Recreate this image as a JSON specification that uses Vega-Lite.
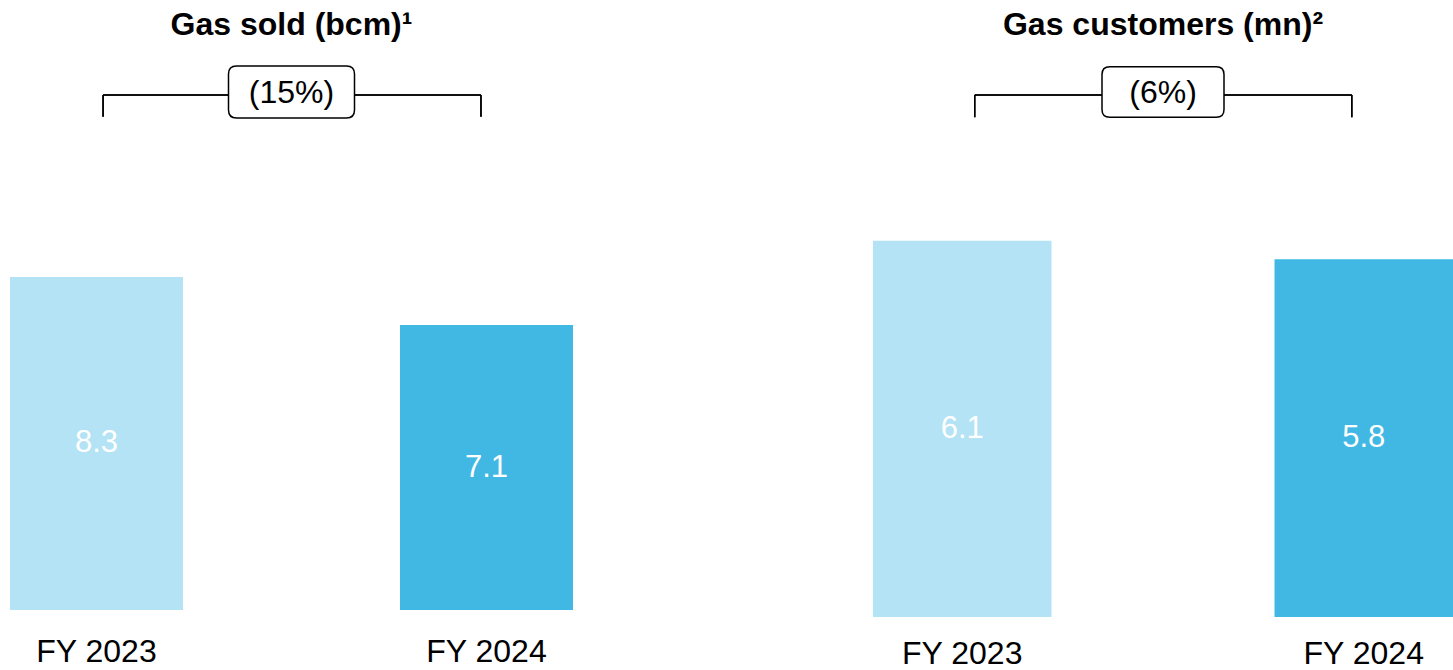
{
  "$schema": "https://vega.github.io/schema/vega-lite/v6.json",
  "padding": 0,
  "spacing": 290,
  "background": "white",
  "config": {
    "view": {"stroke": null},
    "font": "Liberation Sans",
    "text": {"font": "Liberation Sans"}
  },
  "datasets": {
    "gas_sold": [
      {"year": "FY 2023", "value": 8.3},
      {"year": "FY 2024", "value": 7.1}
    ],
    "gas_customers": [
      {"year": "FY 2023", "value": 6.1},
      {"year": "FY 2024", "value": 5.8}
    ]
  },
  "hconcat": [
    {
      "width": 583,
      "height": 610,
      "data": {"name": "gas_sold"},
      "resolve": {"scale": {"y": "independent"}},
      "layer": [
        {
          "layer": [
            {
              "mark": {"type": "bar"},
              "encoding": {
                "x": {"field": "year", "type": "nominal", "scale": {"domain": ["FY 2023", "change", "FY 2024"], "paddingInner": 0.1128, "paddingOuter": 0.0513}, "axis": {"values": ["FY 2023", "FY 2024"], "title": null, "domain": false, "ticks": false, "labelAngle": 0, "labelFontSize": 32, "labelColor": "black", "labelPadding": 51, "labelBaseline": "alphabetic", "labelFont": "Liberation Sans"}},
                "y": {"field": "value", "type": "quantitative", "scale": {"domain": [0, 15.2], "nice": false}, "axis": null},
                "color": {"field": "year", "type": "nominal", "scale": {"domain": ["FY 2023", "FY 2024"], "range": ["#B3E3F4", "#41B8E4"]}, "legend": null}
              }
            },
            {
              "mark": {"type": "rule", "color": "black", "strokeWidth": 1.5},
              "encoding": {
                "x": {"datum": "FY 2023", "bandPosition": 0.538},
                "y": {"datum": 12.29},
                "y2": {"datum": 12.83}
              }
            },
            {
              "mark": {"type": "rule", "color": "black", "strokeWidth": 1.5},
              "encoding": {
                "x": {"datum": "FY 2024", "bandPosition": 0.468},
                "y": {"datum": 12.29},
                "y2": {"datum": 12.83}
              }
            },
            {
              "mark": {"type": "rule", "color": "black", "strokeWidth": 1.5},
              "encoding": {
                "x": {"datum": "FY 2023", "bandPosition": 0.538},
                "x2": {"datum": "FY 2024", "bandPosition": 0.468},
                "y": {"datum": 12.83}
              }
            },
            {
              "data": {"values": [{"title": "Gas sold (bcm)¹", "change": "(15%)"}]},
              "mark": {"type": "point", "filled": true, "fill": "white", "stroke": "black", "strokeWidth": 1.5, "opacity": 1, "size": 15876, "shape": "M -0.873,-0.413 L 0.873,-0.413 Q 1,-0.413 1,-0.286 L 1,0.286 Q 1,0.413 0.873,0.413 L -0.873,0.413 Q -1,0.413 -1,0.286 L -1,-0.286 Q -1,-0.413 -0.873,-0.413 Z"},
              "encoding": {
                "x": {"datum": "change"},
                "y": {"datum": 12.91}
              }
            },
            {
              "data": {"values": [{"title": "Gas sold (bcm)¹", "change": "(15%)"}]},
              "mark": {"type": "text", "color": "black", "fontSize": 32, "baseline": "alphabetic", "align": "center"},
              "encoding": {
                "x": {"datum": "change"},
                "y": {"datum": 12.63},
                "text": {"field": "change", "type": "nominal"}
              }
            },
            {
              "data": {"values": [{"title": "Gas sold (bcm)¹", "change": "(15%)"}]},
              "mark": {"type": "text", "color": "black", "fontSize": 32, "fontWeight": "bold", "baseline": "alphabetic", "align": "center"},
              "encoding": {
                "x": {"datum": "change"},
                "y": {"datum": 14.33},
                "text": {"field": "title", "type": "nominal"}
              }
            }
          ]
        },
        {
          "mark": {"type": "text", "color": "white", "fontSize": 31, "baseline": "middle", "align": "center"},
          "encoding": {
            "x": {"field": "year", "type": "nominal"},
            "y": {"field": "value", "type": "quantitative", "scale": {"domain": [0, 30.4], "nice": false}, "axis": null},
            "text": {"field": "value", "type": "quantitative", "format": ".1f"}
          }
        }
      ]
    },
    {
      "width": 580,
      "height": 617,
      "data": {"name": "gas_customers"},
      "resolve": {"scale": {"y": "independent"}},
      "layer": [
        {
          "layer": [
            {
              "mark": {"type": "bar"},
              "encoding": {
                "x": {"field": "year", "type": "nominal", "scale": {"domain": ["FY 2023", "change", "FY 2024"], "paddingInner": 0.111, "paddingOuter": 0}, "axis": {"values": ["FY 2023", "FY 2024"], "title": null, "domain": false, "ticks": false, "labelAngle": 0, "labelFontSize": 32, "labelColor": "black", "labelPadding": 46, "labelBaseline": "alphabetic", "labelFont": "Liberation Sans"}},
                "y": {"field": "value", "type": "quantitative", "scale": {"domain": [0, 10], "nice": false}, "axis": null},
                "color": {"field": "year", "type": "nominal", "scale": {"domain": ["FY 2023", "FY 2024"], "range": ["#B3E3F4", "#41B8E4"]}, "legend": null}
              }
            },
            {
              "mark": {"type": "rule", "color": "black", "strokeWidth": 1.5},
              "encoding": {
                "x": {"datum": "FY 2023", "bandPosition": 0.57},
                "y": {"datum": 8.10},
                "y2": {"datum": 8.46}
              }
            },
            {
              "mark": {"type": "rule", "color": "black", "strokeWidth": 1.5},
              "encoding": {
                "x": {"datum": "FY 2024", "bandPosition": 0.433},
                "y": {"datum": 8.10},
                "y2": {"datum": 8.46}
              }
            },
            {
              "mark": {"type": "rule", "color": "black", "strokeWidth": 1.5},
              "encoding": {
                "x": {"datum": "FY 2023", "bandPosition": 0.57},
                "x2": {"datum": "FY 2024", "bandPosition": 0.433},
                "y": {"datum": 8.46}
              }
            },
            {
              "data": {"values": [{"title": "Gas customers (mn)²", "change": "(6%)"}]},
              "mark": {"type": "point", "filled": true, "fill": "white", "stroke": "black", "strokeWidth": 1.5, "opacity": 1, "size": 14884, "shape": "M -0.873,-0.413 L 0.873,-0.413 Q 1,-0.413 1,-0.286 L 1,0.286 Q 1,0.413 0.873,0.413 L -0.873,0.413 Q -1,0.413 -1,0.286 L -1,-0.286 Q -1,-0.413 -0.873,-0.413 Z"},
              "encoding": {
                "x": {"datum": "change"},
                "y": {"datum": 8.51}
              }
            },
            {
              "data": {"values": [{"title": "Gas customers (mn)²", "change": "(6%)"}]},
              "mark": {"type": "text", "color": "black", "fontSize": 32, "baseline": "alphabetic", "align": "center"},
              "encoding": {
                "x": {"datum": "change"},
                "y": {"datum": 8.33},
                "text": {"field": "change", "type": "nominal"}
              }
            },
            {
              "data": {"values": [{"title": "Gas customers (mn)²", "change": "(6%)"}]},
              "mark": {"type": "text", "color": "black", "fontSize": 32, "fontWeight": "bold", "baseline": "alphabetic", "align": "center"},
              "encoding": {
                "x": {"datum": "change"},
                "y": {"datum": 9.43},
                "text": {"field": "title", "type": "nominal"}
              }
            }
          ]
        },
        {
          "mark": {"type": "text", "color": "white", "fontSize": 31, "baseline": "middle", "align": "center"},
          "encoding": {
            "x": {"field": "year", "type": "nominal"},
            "y": {"field": "value", "type": "quantitative", "scale": {"domain": [0, 20], "nice": false}, "axis": null},
            "text": {"field": "value", "type": "quantitative", "format": ".1f"}
          }
        }
      ]
    }
  ]
}
